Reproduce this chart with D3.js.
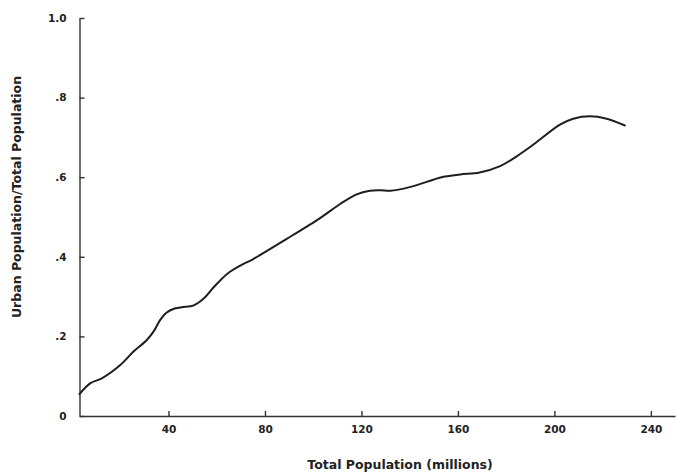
<!DOCTYPE html>
<html>
<head>
<meta charset="utf-8">
<script src="https://cdn.jsdelivr.net/npm/d3@7"></script>
<style>
  html, body { margin: 0; padding: 0; background: #fff; }
  svg { display: block; }
  .axis text { font-family: "DejaVu Sans", sans-serif; font-weight: bold; font-size: 10.5px; fill: #222; }
  .axis path, .axis line { stroke: #333; stroke-width: 1.4px; }
  .title { font-family: "DejaVu Sans", sans-serif; font-weight: bold; font-size: 12.5px; fill: #222; }
</style>
</head>
<body>
<svg id="chart" width="676" height="476"></svg>
<script>
// Total population (millions) against the urban share of that population
const totalPopulation = [
  3.1, 7.5, 12.5, 20, 25.5, 31, 34, 36.5, 39, 42, 45.5, 50.5, 54.6, 58.8, 64.3, 69.8,
  75.3, 89, 103, 111, 118, 123.5, 128, 132, 140, 154, 161, 169, 177.5, 184.5,
  191.3, 202.3, 207.8, 214.7, 221.7, 229.2
];
const urbanShare = [
  0.055, 0.082, 0.095, 0.128, 0.162, 0.191, 0.214, 0.241, 0.259, 0.269, 0.273, 0.278, 0.295, 0.324, 0.357, 0.378,
  0.395, 0.445, 0.498, 0.532, 0.557, 0.566, 0.567, 0.566, 0.575, 0.601, 0.607, 0.612, 0.628, 0.653,
  0.682, 0.732, 0.747, 0.753, 0.747, 0.730
];
const xTicks = [40, 80, 120, 160, 200, 240];
const yTicks = [0, 0.2, 0.4, 0.6, 0.8, 1.0];
const yTickLabels = ["0", ".2", ".4", ".6", ".8", "1.0"];

const svg = d3.select("#chart");
const plotLeft = 79.5, plotRight = 675, plotTop = 18, plotBottom = 416;

const x = d3.scaleLinear().domain([3.1, 250]).range([plotLeft, plotRight]);
const y = d3.scaleLinear().domain([0, 1]).range([plotBottom, plotTop]);

// x axis, ticks pointing up into the plot
svg.append("g")
  .attr("class", "axis")
  .attr("transform", `translate(0,${plotBottom})`)
  .call(d3.axisBottom(x).tickValues(xTicks).tickFormat(d3.format("d"))
    .tickSizeInner(-5).tickSizeOuter(0).tickPadding(10));

// y axis, ticks pointing right into the plot
svg.append("g")
  .attr("class", "axis")
  .attr("transform", `translate(${plotLeft},0)`)
  .call(d3.axisLeft(y).tickValues(yTicks).tickFormat((d, i) => yTickLabels[i])
    .tickSizeInner(-5).tickSizeOuter(0).tickPadding(13));

// the curve
const pts = totalPopulation.map((v, i) => [v, urbanShare[i]]);
svg.append("path")
  .datum(pts)
  .attr("fill", "none")
  .attr("stroke", "#1e1e1e")
  .attr("stroke-width", 2)
  .attr("stroke-linejoin", "round")
  .attr("stroke-linecap", "round")
  .attr("d", d3.line().x(d => x(d[0])).y(d => y(d[1])).curve(d3.curveCatmullRom.alpha(0.5)));

// axis titles
svg.append("text")
  .attr("class", "title")
  .attr("x", 400).attr("y", 465)
  .attr("text-anchor", "middle")
  .attr("dominant-baseline", "middle")
  .text("Total Population (millions)");

svg.append("text")
  .attr("class", "title")
  .attr("transform", "translate(17,197) rotate(-90)")
  .attr("text-anchor", "middle")
  .attr("dominant-baseline", "middle")
  .text("Urban Population/Total Population");
</script>
</body>
</html>
